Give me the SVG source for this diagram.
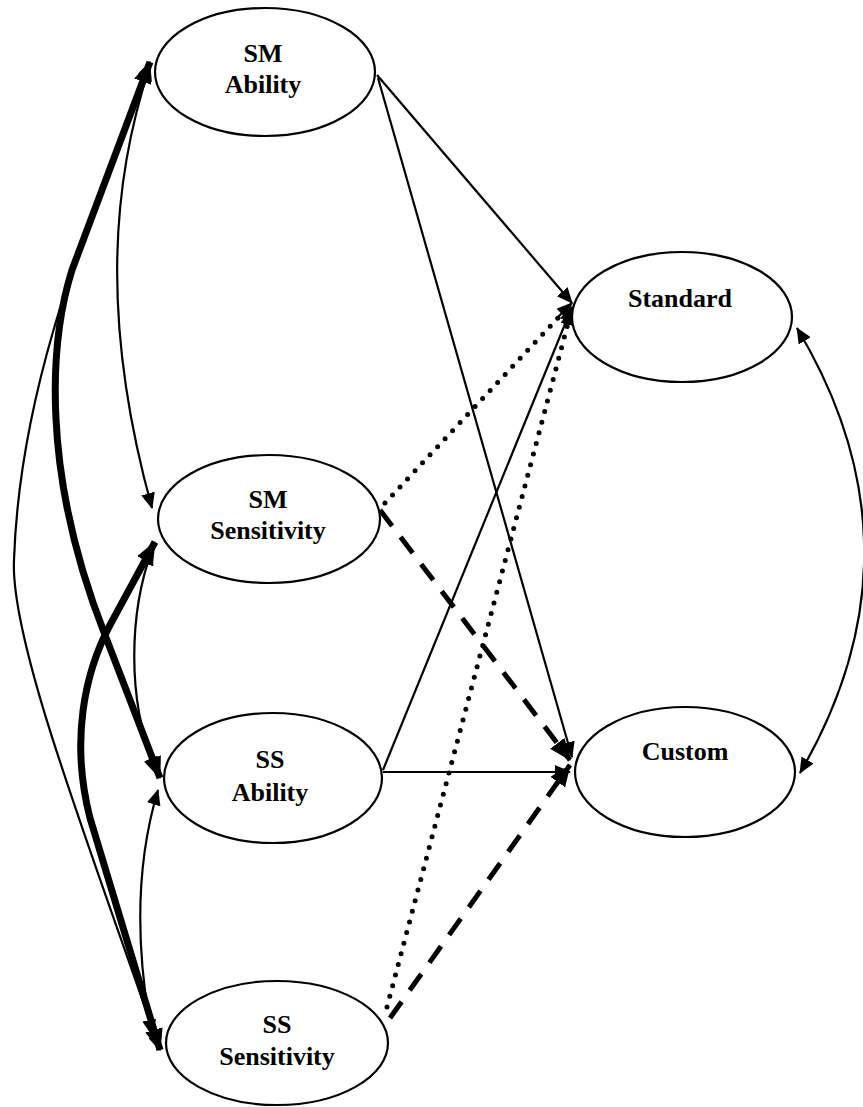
<svg xmlns="http://www.w3.org/2000/svg" width="863" height="1107" viewBox="0 0 863 1107">
<style>
  .node ellipse { fill: #fff; stroke: #000; stroke-width: 2.2; }
  .node text { font-family: "Liberation Serif", "Times New Roman", serif; font-weight: bold; font-size: 26px; text-anchor: middle; fill: #000; }
  .thin { fill: none; stroke: #000; stroke-width: 2.2; }
  .thick { fill: none; stroke: #000; stroke-width: 7; }
  .dot { fill: none; stroke: #000; stroke-width: 5; stroke-linecap: round; stroke-dasharray: 0 11; }
  .dash { fill: none; stroke: #000; stroke-width: 5; stroke-dasharray: 20 14; }
</style>
<defs>
  <marker id="ah" markerUnits="userSpaceOnUse" markerWidth="16" markerHeight="14" refX="15" refY="7" orient="auto-start-reverse" viewBox="0 0 16 14">
    <path d="M0,0 L16,7 L0,14 Z" fill="#000"/>
  </marker>
  <marker id="ahb" markerUnits="userSpaceOnUse" markerWidth="22" markerHeight="18" refX="21" refY="9" orient="auto-start-reverse" viewBox="0 0 22 18">
    <path d="M0,0 L22,9 L0,18 Z" fill="#000"/>
  </marker>
</defs>
<g id="connectors">
  <!-- left covariance curves -->
  <path class="thick" d="M150,62 L72,270 C50,340 40,470 105,635 L160,778" marker-start="url(#ahb)" marker-end="url(#ahb)"/>
  <path class="thick" d="M155,542 L110,625 C85,672 70,740 90,818 L160,1050" marker-start="url(#ahb)" marker-end="url(#ahb)"/>
  <path class="thin" d="M150,66 C112,180 100,320 152,508" marker-start="url(#ah)" marker-end="url(#ah)"/>
  <path class="thin" d="M150,62 C90,220 20,380 14,560 C10,640 87,840 160,1050" marker-start="url(#ah)" marker-end="url(#ah)"/>
  <path class="thin" d="M152,550 C130,610 125,700 157,772" marker-start="url(#ah)" marker-end="url(#ah)"/>
  <path class="thin" d="M158,790 C140,850 132,930 152,1035" marker-start="url(#ah)" marker-end="url(#ah)"/>
  <!-- right covariance -->
  <path class="thin" d="M797,328 Q930,550 800,773" marker-start="url(#ah)" marker-end="url(#ah)"/>
  <!-- paths to Standard / Custom -->
  <path class="thin" d="M377,75 L572,303" marker-end="url(#ah)"/>
  <path class="thin" d="M378,78 L572,757" marker-end="url(#ah)"/>
  <path class="dot" d="M385,503 L570,305"/>
  <path d="M556,319 L572,303" class="thin" marker-end="url(#ah)"/>
  <path class="dash" d="M380,510 L570,760" marker-end="url(#ahb)"/>
  <path class="thin" d="M383,770 L572,307" marker-end="url(#ah)"/>
  <path class="thin" d="M383,772 L570,772" marker-end="url(#ah)"/>
  <path class="dot" d="M387,1007 L571,312"/>
  <path d="M567,326 L571,310" class="thin" marker-end="url(#ah)"/>
  <path class="dash" d="M390,1018 L570,765" marker-end="url(#ahb)"/>
</g>
<g id="sm-ability" class="node">
  <ellipse cx="265" cy="72" rx="110" ry="64"/>
  <text x="263" y="62">SM</text>
  <text x="263" y="93">Ability</text>
</g>
<g id="sm-sensitivity" class="node">
  <ellipse cx="269" cy="519" rx="111" ry="64"/>
  <text x="268" y="508">SM</text>
  <text x="268" y="539">Sensitivity</text>
</g>
<g id="ss-ability" class="node">
  <ellipse cx="273" cy="778" rx="109" ry="65"/>
  <text x="270" y="768">SS</text>
  <text x="270" y="801">Ability</text>
</g>
<g id="ss-sensitivity" class="node">
  <ellipse cx="277" cy="1043" rx="111" ry="62"/>
  <text x="277" y="1033">SS</text>
  <text x="277" y="1065">Sensitivity</text>
</g>
<g id="standard" class="node">
  <ellipse cx="682" cy="317" rx="110" ry="65"/>
  <text x="680" y="307">Standard</text>
</g>
<g id="custom" class="node">
  <ellipse cx="685" cy="772" rx="110" ry="65"/>
  <text x="685" y="760">Custom</text>
</g>
</svg>
